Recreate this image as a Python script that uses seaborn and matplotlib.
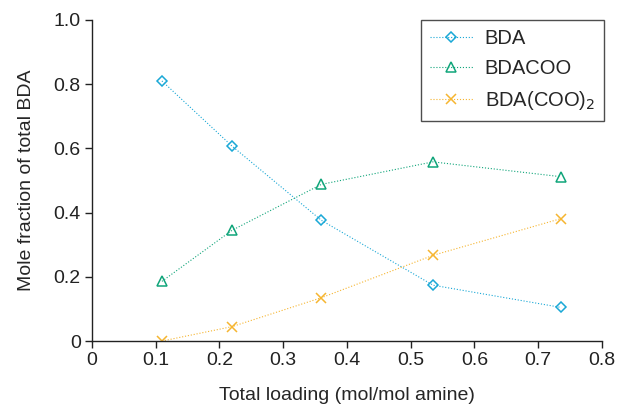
import pandas as pd
import matplotlib.pyplot as plt
import seaborn as sns

# Data
loading = [0.11, 0.22, 0.36, 0.535, 0.735]
bda = [0.81, 0.607, 0.376, 0.174, 0.105]
bdacoo = [0.186, 0.345, 0.488, 0.558, 0.512]
bda_coo2 = [0.0, 0.045, 0.135, 0.267, 0.381]

sns.set_theme(style="ticks")
plt.rcParams.update({
    "font.family": ["Liberation Sans", "DejaVu Sans"],
    "axes.edgecolor": "#222222",
    "axes.linewidth": 1.0,
    "xtick.color": "#222222",
    "ytick.color": "#222222",
    "xtick.direction": "out",
    "ytick.direction": "out",
})

df = pd.DataFrame({
    "loading": loading * 3,
    "frac": bda + bdacoo + bda_coo2,
    "species": ["BDA"] * 5 + ["BDACOO"] * 5 + ["BDA(COO)$_2$"] * 5,
})

fig = plt.figure(figsize=(6.2, 4.07), dpi=100)
ax = fig.add_axes([0.148, 0.162, 0.823, 0.789])

styles = {
    "BDA": ("#1aa8d6", "D", 5),
    "BDACOO": ("#10a57a", "^", 7),
    "BDA(COO)$_2$": ("#f6b530", "x", 7),
}
for name, (col, mk, ms) in styles.items():
    sub = df[df["species"] == name]
    sns.lineplot(data=sub, x="loading", y="frac", ax=ax, color=col, lw=0.8,
                 linestyle=":", marker=mk, markersize=ms, markerfacecolor="none",
                 markeredgecolor=col, markeredgewidth=1.1, label=name)

ax.set_xlim(0, 0.8)
ax.set_ylim(0, 1.0)
ax.set_xticks([0, 0.1, 0.2, 0.3, 0.4, 0.5, 0.6, 0.7, 0.8])
ax.set_xticklabels(["0", "0.1", "0.2", "0.3", "0.4", "0.5", "0.6", "0.7", "0.8"])
ax.set_yticks([0, 0.2, 0.4, 0.6, 0.8, 1.0])
ax.set_yticklabels(["0", "0.2", "0.4", "0.6", "0.8", "1.0"])
ax.tick_params(labelsize=14, length=5, width=1, pad=3)
ax.set_xlabel("Total loading (mol/mol amine)", fontsize=14, labelpad=13)
ax.set_ylabel("Mole fraction of total BDA", fontsize=14, labelpad=13)
sns.despine(ax=ax)

leg = ax.legend(loc="upper right", fontsize=14.5, frameon=True, fancybox=False,
                edgecolor="#222222", borderaxespad=0, handlelength=2.1,
                handletextpad=0.6, labelspacing=0.55, borderpad=0.45,
                bbox_to_anchor=(1.004, 1.0))
leg.get_frame().set_linewidth(1.0)

fig.savefig("out.png", dpi=100)
